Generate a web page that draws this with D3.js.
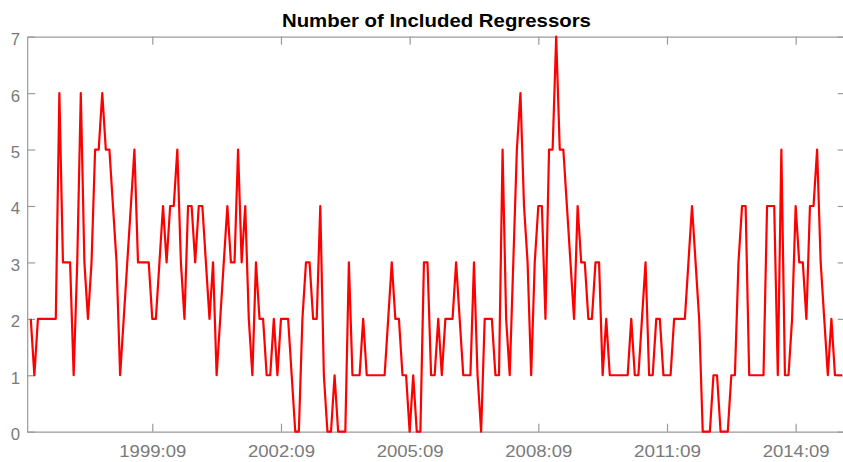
<!DOCTYPE html>
<html><head><meta charset="utf-8">
<script src="https://cdn.jsdelivr.net/npm/d3@7"></script>
<style>body{margin:0;background:#fff}svg{display:block}</style>
</head><body>
<svg id="c" width="843" height="462"></svg>
<script>
const title = "Number of Included Regressors";
const firstObs = "1996:11";
const domainStart = "1996:10";
const domainEnd = "2015:11";
const values = [
  2,1,2,2,2,2,2,2,6,3, 3,3,1,3,6,3,2,3,5,5,
  6,5,5,4,3,1,2,3,4,5, 3,3,3,3,2,2,3,4,3,4,
  4,5,3,2,4,4,3,4,4,3, 2,3,1,2,3,4,3,3,5,3,
  4,2,1,3,2,2,1,1,2,1, 2,2,2,1,0,0,2,3,3,2,
  2,4,1,0,0,1,0,0,0,3, 1,1,1,2,1,1,1,1,1,1,
  2,3,2,2,1,1,0,1,0,0, 3,3,1,1,2,1,2,2,2,3,
  2,1,1,1,3,1,0,2,2,2, 1,1,5,2,1,3,5,6,4,3,
  1,3,4,4,2,5,5,7,5,5, 4,3,2,4,3,3,2,2,3,3,
  1,2,1,1,1,1,1,1,2,1, 1,2,3,1,1,2,2,1,1,1,
  2,2,2,2,3,4,3,2,0,0, 0,1,1,0,0,0,1,1,3,4,
  4,1,1,1,1,1,4,4,4,1, 5,1,1,2,4,3,3,2,4,4,
  5,3,2,1,2,1,1,1
];
const xTickLabels = ["1999:09","2002:09","2005:09","2008:09","2011:09","2014:09"];
const yTicks = [0,1,2,3,4,5,6,7];

function monthIndex(s){ const [yy,mm] = s.split(":").map(Number); return (yy-1996)*12 + (mm-10); }
const start = monthIndex(firstObs);
const data = values.map((v,i)=>({m:start+i, v}));

const W = 843, H = 462;
const pL = 27.2, pR = 845.7, pT = 36.7, pB = 431.7;
const font = "'Liberation Sans', Arial, Helvetica, sans-serif";
const svg = d3.select("#c");
svg.append("rect").attr("width",W).attr("height",H).attr("fill","#fff");

const x = d3.scaleLinear().domain([monthIndex(domainStart), monthIndex(domainEnd)]).range([pL,pR]);
const y = d3.scaleLinear().domain([0,7]).range([pB,pT]);

const axisColor = "#9a9a9a";
const labelColor = "#7a7a7a";
const tickVals = xTickLabels.map(monthIndex);

const gb = svg.append("g").attr("transform",`translate(0,${pB})`)
  .call(d3.axisBottom(x).tickValues(tickVals).tickFormat((d,i)=>xTickLabels[i]).tickSize(-8).tickSizeOuter(0).tickPadding(13));
const gt = svg.append("g").attr("transform",`translate(0,${pT})`)
  .call(d3.axisTop(x).tickValues(tickVals).tickFormat("").tickSize(-8).tickSizeOuter(0));
const gl = svg.append("g").attr("transform",`translate(${pL},0)`)
  .call(d3.axisLeft(y).tickValues(yTicks).tickFormat(d3.format("d")).tickSize(-8).tickSizeOuter(0).tickPadding(7));
const gr = svg.append("g").attr("transform",`translate(${pR},0)`)
  .call(d3.axisRight(y).tickValues(yTicks).tickFormat("").tickSize(-8).tickSizeOuter(0));

[gb,gt,gl,gr].forEach(g=>{
  g.selectAll("path.domain").attr("stroke",axisColor).attr("stroke-width",1.2);
  g.selectAll(".tick line").attr("stroke",axisColor).attr("stroke-width",1.2);
  g.selectAll("text").attr("fill",labelColor).attr("font-family",font).attr("font-size",16.8);
});
gb.selectAll(".tick text").attr("textLength",67).attr("lengthAdjust","spacingAndGlyphs");
gl.selectAll(".tick text").attr("dy","0.47em");

const line = d3.line().x(d=>x(d.m)).y(d=>y(d.v));
svg.append("path").datum(data).attr("d",line)
  .attr("fill","none").attr("stroke","#ff0000").attr("stroke-width",2.2).attr("stroke-linejoin","round");

svg.append("text").attr("x",(pL+pR)/2).attr("y",27.3)
  .attr("text-anchor","middle").attr("font-family",font)
  .attr("font-weight","bold").attr("font-size",18.2).attr("fill","#000")
  .attr("textLength",309).attr("lengthAdjust","spacingAndGlyphs").text(title);
</script>
</body></html>
